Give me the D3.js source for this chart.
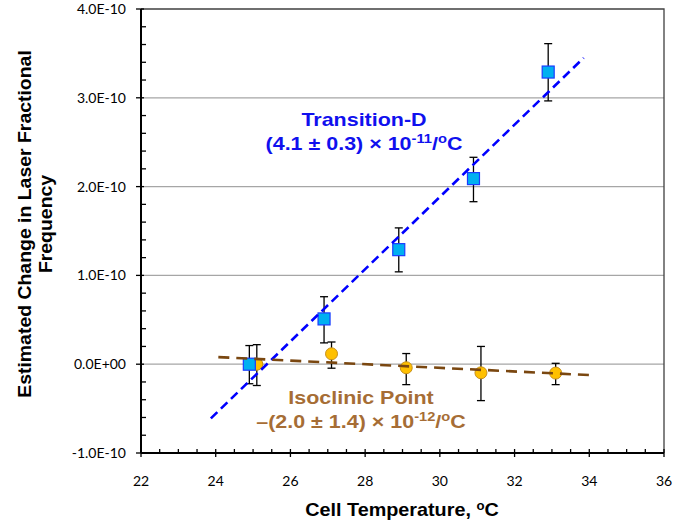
<!DOCTYPE html>
<html>
<head>
<meta charset="utf-8">
<script src="https://cdn.jsdelivr.net/npm/d3@7"></script>
<style>
  body { margin: 0; background: #fff; }
  svg text { font-family: "Liberation Sans", Arial, sans-serif; }
  .tick-lbl { font-family: Lato, "Open Sans", sans-serif; font-size: 14px; fill: #000; }
</style>
</head>
<body>
<svg id="chart" width="700" height="527"></svg>
<script>
// data, y values in units of 1e-10
const tempD = [24.9, 26.9, 28.9, 30.9, 32.9];
const valD = [0.0, 0.51, 1.29, 2.09, 3.29];
const hiD = [0.21, 0.76, 1.535, 2.33, 3.61];
const loD = [-0.22, 0.24, 1.04, 1.83, 2.965];

const tempIso = [25.1, 27.1, 29.1, 31.1, 33.1];
const valIso = [0.0, 0.117, -0.04, -0.097, -0.10];
const hiIso = [0.22, 0.25, 0.12, 0.20, 0.01];
const loIso = [-0.24, -0.045, -0.23, -0.41, -0.23];

const fitDx = [23.87, 33.85], fitDy = [-0.61, 3.45];
const fitIsoX = [24.07, 34.12], fitIsoY = [0.08, -0.125];

const xTicks = [22, 24, 26, 28, 30, 32, 34, 36];
const yTicks = [-1, 0, 1, 2, 3, 4];
const yTickLabels = ["-1.0E-10", "0.0E+00", "1.0E-10", "2.0E-10", "3.0E-10", "4.0E-10"];

const margin = {top: 9, right: 36, bottom: 74, left: 141},
    width = 700 - margin.left - margin.right,
    height = 527 - margin.top - margin.bottom;

const svg = d3.select("#chart");
const g = svg.append("g")
    .attr("transform", "translate(" + margin.left + "," + margin.top + ")");

let x = d3.scaleLinear().domain([22, 36]).range([0, width]);
let y = d3.scaleLinear().domain([-1, 4]).range([height, 0]);

// gridlines
g.selectAll(".grid")
    .data(yTicks.filter(d => d > -1 && d < 4))
    .enter().append("line")
    .attr("x1", 0).attr("x2", width)
    .attr("y1", d => y(d)).attr("y2", d => y(d))
    .style("stroke", "#a6a6a6").style("stroke-width", 1.2);

// top + right border
g.append("path")
    .attr("d", "M0," + y(4) + "H" + width + "V" + height)
    .style("fill", "none").style("stroke", "#404040").style("stroke-width", 1.3);

// minor ticks
const xMinor = d3.range(22, 36.01, 0.5).filter(d => d % 2 !== 0);
g.selectAll(".xminor").data(xMinor).enter().append("line")
    .attr("x1", d => x(d)).attr("x2", d => x(d))
    .attr("y1", height).attr("y2", height - 4)
    .style("stroke", "#000").style("stroke-width", 1.3);
const yMinor = d3.range(-1, 4.01, 0.2).filter(d => Math.abs(d - Math.round(d)) > 0.01);
g.selectAll(".yminor").data(yMinor).enter().append("line")
    .attr("x1", 0).attr("x2", 5)
    .attr("y1", d => y(d)).attr("y2", d => y(d))
    .style("stroke", "#000").style("stroke-width", 1.3);

// major ticks
g.selectAll(".xmajor").data(xTicks).enter().append("line")
    .attr("x1", d => x(d)).attr("x2", d => x(d))
    .attr("y1", height - 4).attr("y2", height + 4)
    .style("stroke", "#000").style("stroke-width", 1.3);
g.selectAll(".ymajor").data(yTicks).enter().append("line")
    .attr("x1", -5).attr("x2", 3)
    .attr("y1", d => y(d)).attr("y2", d => y(d))
    .style("stroke", "#000").style("stroke-width", 1.3);

// axis lines
g.append("line").attr("x1", 0).attr("x2", 0).attr("y1", y(4)).attr("y2", height)
    .style("stroke", "#000").style("stroke-width", 2);
g.append("line").attr("x1", 0).attr("x2", width).attr("y1", height).attr("y2", height)
    .style("stroke", "#000").style("stroke-width", 2);

// tick labels
g.selectAll(".xl").data(xTicks).enter().append("text")
    .attr("class", "tick-lbl")
    .attr("x", d => x(d)).attr("y", height + 33)
    .attr("text-anchor", "middle")
    .text(d => d);
g.selectAll(".yl").data(yTicks).enter().append("text")
    .attr("class", "tick-lbl")
    .attr("x", -15).attr("y", d => y(d) + 5)
    .attr("text-anchor", "end")
    .text((d, i) => yTickLabels[i]);

// error bars
function errBars(xs, lo, hi) {
    const eb = g.append("g");
    xs.forEach(function (t, i) {
        eb.append("line").attr("x1", x(t)).attr("x2", x(t))
            .attr("y1", y(lo[i])).attr("y2", y(hi[i]));
        [lo[i], hi[i]].forEach(function (v) {
            eb.append("line").attr("x1", x(t) - 4).attr("x2", x(t) + 4)
                .attr("y1", y(v)).attr("y2", y(v));
        });
    });
    eb.selectAll("line").style("stroke", "#000").style("stroke-width", 1.3);
}
errBars(tempIso, loIso, hiIso);
errBars(tempD, loD, hiD);

// markers
g.selectAll(".iso").data(tempIso).enter().append("circle")
    .attr("cx", d => x(d)).attr("cy", (d, i) => y(valIso[i]))
    .attr("r", 6)
    .style("fill", "#ffc000").style("stroke", "#c8901a").style("stroke-width", 1);
g.selectAll(".sq").data(tempD).enter().append("rect")
    .attr("x", d => x(d) - 6).attr("y", (d, i) => y(valD[i]) - 6)
    .attr("width", 12).attr("height", 12)
    .style("fill", "#00b0f0").style("stroke", "#1a3cff").style("stroke-width", 1.2);

// fit lines
let line = d3.line().x(d => x(d[0])).y(d => y(d[1]));
g.append("path")
    .attr("d", line(d3.zip(fitDx, fitDy)))
    .style("fill", "none").style("stroke", "#0000ff")
    .style("stroke-width", 2.6).style("stroke-dasharray", "9,5");
g.append("path")
    .attr("d", line(d3.zip(fitIsoX, fitIsoY)))
    .style("fill", "none").style("stroke", "#7a4710")
    .style("stroke-width", 2.6).style("stroke-dasharray", "11,7");

// annotations (text in the source is a bit wide, so stretch horizontally)
function note(cx, y1, y2, color, title, pre, exp) {
    const t = svg.append("g")
        .attr("transform", "translate(" + cx + ",0) scale(1.13,1)")
        .style("fill", color)
        .style("font-weight", "bold").style("font-size", "19px");
    t.append("text").attr("x", 0).attr("y", y1).attr("text-anchor", "middle").text(title);
    const l2 = t.append("text").attr("x", 0).attr("y", y2).attr("text-anchor", "middle");
    l2.append("tspan").text(pre);
    l2.append("tspan").attr("dy", -7).style("font-size", "13px").text(exp);
    l2.append("tspan").attr("dy", 7).text("/");
    l2.append("tspan").attr("dy", -7).style("font-size", "13px").text("o");
    l2.append("tspan").attr("dy", 7).text("C");
}
note(364, 126, 150, "#1010ee", "Transition-D", "(4.1 \u00b1 0.3)  \u00d7 10", "-11");
note(361, 404, 428, "#a66d35", "Isoclinic Point", "\u2013(2.0 \u00b1 1.4)  \u00d7 10", "-12");

// axis titles
const xt = svg.append("text")
    .attr("transform", "translate(402,516) scale(1.1,1)")
    .attr("text-anchor", "middle")
    .style("font-weight", "bold").style("font-size", "18px");
xt.append("tspan").text("Cell Temperature, ");
xt.append("tspan").attr("dy", -6).style("font-size", "12px").text("o");
xt.append("tspan").attr("dy", 6).text("C");

const yt = svg.append("text")
    .attr("transform", "translate(0,224) rotate(-90) scale(1.08,1)")
    .attr("text-anchor", "middle")
    .style("font-weight", "bold").style("font-size", "18px");
yt.append("tspan").attr("x", 0).attr("y", 31).text("Estimated Change in Laser Fractional");
yt.append("tspan").attr("x", 0).attr("y", 52).text("Frequency");
</script>
</body>
</html>
